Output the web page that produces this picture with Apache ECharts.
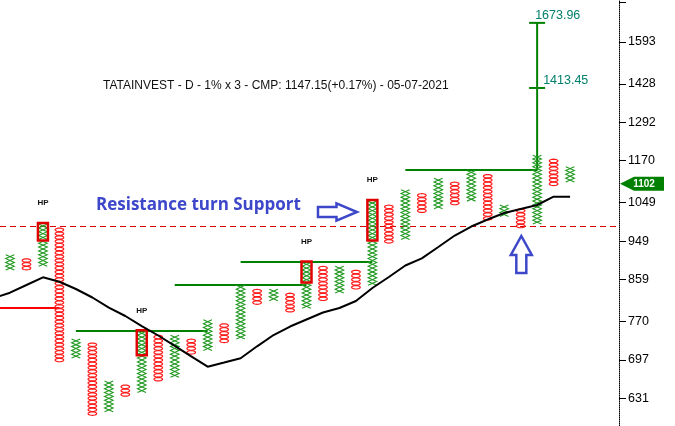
<!DOCTYPE html>
<html>
<head>
<meta charset="utf-8">
<script src="https://cdn.jsdelivr.net/npm/echarts@6/dist/echarts.min.js"></script>
<style>html,body{margin:0;padding:0;background:#fff}#c{width:675px;height:426px}</style>
</head>
<body>
<div id="c"></div>
<script>
// ---------- data ----------
const chartTitle = 'TATAINVEST - D - 1% x 3 - CMP: 1147.15(+0.17%) - 05-07-2021';
const noteText = 'Resistance turn Support';
const boxBase = 631;          // price of box 0
const boxPct = 0.01;          // 1% box
// P&F columns (index = column number)
const colType = ['X','O','X','O','X','O','X','O','X','O','X','O','X','O','X','O','X','O','X','O','X','O','X','O','X','O','X','O','X','O','X','O','X','O','X'];
const colLow  = [885.1, 885.1, 893.9, 697.0, 704.0, 606.4, 612.4, 637.3, 643.7, 663.2, 669.8, 711.0, 718.1, 732.6, 739.9, 809.2, 817.3, 793.3, 801.2, 817.3, 833.7, 842.1, 850.5, 948.9, 958.4, 1027.5, 1037.8, 1048.2, 1058.6, 1007.3, 1017.3, 987.4, 997.3, 1101.6, 1112.6];
const colHigh = [911.9, 902.9, 987.4, 977.7, 732.6, 725.3, 656.6, 650.1, 747.3, 739.9, 739.9, 732.6, 770.0, 762.3, 842.1, 833.7, 833.7, 825.5, 893.9, 885.1, 885.1, 876.3, 1048.2, 1037.8, 1079.9, 1069.2, 1112.6, 1101.6, 1135.0, 1123.8, 1037.8, 1027.5, 1181.1, 1169.4, 1146.4];
// high-pole boxes
const hpCols = [2, 8, 18, 22];
const hpLow  = [958.4, 711.0, 859.0, 958.4];
const hpHigh = [987.4, 747.3, 893.9, 1048.2];
// moving average, columns -1 .. 34
const maVals = [818.5, 830.3, 847.1, 864.2, 854.3, 838.3, 820.0, 798.9, 781.5, 761.4, 742.9, 723.2, 703.6, 685.0, 692.5, 700.2, 722.3, 743.8, 760.4, 774.4, 788.6, 797.9, 812.5, 840.4, 864.8, 891.1, 907.9, 935.0, 963.3, 986.1, 1004.2, 1021.3, 1032.0, 1042.8, 1065.5, 1065.5];
// resistance lines (green)
const resPrice = [751.0, 846.3, 898.4, 1140.7];
const resFrom  = [4, 10, 14, 24];
const resTo    = [12, 18, 22, 32];
// support line (red, solid)
const supPrice = 797.3, supFrom = -1, supTo = 3;
// dashed red line
const dashPrice = 987.4;
// vertical count target
const targetCol = 32, targetBase = 1140.7;
const targets = [1673.96, 1413.45];
// price tag
const lastPrice = 1102;
// arrows: column, price, direction
const arrowCol = [19.88, 31.04];
const arrowPrice = [1024, 916.9];
const arrowDir = ['right', 'up'];
// y axis ticks
const tickLabels = [631, 697, 770, 859, 949, 1049, 1170, 1292, 1428, 1593];
const extraTicks = [1765];
const axisTopPrice = 1776.5, axisBottomPrice = 587.2;

// ---------- helpers ----------
const LB = Math.log(boxBase), BX = Math.log(1 + boxPct);
const bv = b => LB + b * BX;
const boxOf = p => Math.round((Math.log(p) - LB) / BX);
const L = Math.log;

const X_COLOR = '#239a23', O_COLOR = '#ff1a1a', GREEN = '#008000', BLUE = '#3d47c9';
const X_MIN = -0.607, X_MAX = 36.97;

function boxH(api, i) {
  return api.coord([i, bv(0)])[1] - api.coord([i, bv(1)])[1];
}

function renderColumn(params, api) {
  const i = api.value(0), lo = api.value(1), hi = api.value(2), isX = api.value(3) === 1;
  const cx = api.coord([i, bv(lo)])[0];
  const h = boxH(api, i);
  const a = 4.3;
  const children = [];
  if (isX) {
    const bottom = api.coord([i, bv(lo)])[1] + h / 2;
    const n = hi - lo + 1;
    const p1 = [], p2 = [];
    for (let k = 0; k <= n; k++) {
      const y = bottom - k * h;
      p1.push([k % 2 ? cx + a : cx - a, y]);
      p2.push([k % 2 ? cx - a : cx + a, y]);
    }
    children.push({type: 'polyline', shape: {points: p1}, style: {stroke: X_COLOR, lineWidth: 1.1, fill: 'none'}});
    children.push({type: 'polyline', shape: {points: p2}, style: {stroke: X_COLOR, lineWidth: 1.1, fill: 'none'}});
  } else {
    for (let b = lo; b <= hi; b++) {
      const yc = api.coord([i, bv(b)])[1];
      const pts = [];
      for (let t = 0; t < 20; t++) {
        const th = t / 20 * Math.PI * 2;
        pts.push([cx + a * Math.cos(th), yc + (h / 2 - 0.2) * Math.sin(th)]);
      }
      children.push({type: 'polygon', shape: {points: pts}, style: {stroke: O_COLOR, lineWidth: 1.2, fill: 'none'}});
    }
  }
  return {type: 'group', children};
}

function renderHP(params, api) {
  const i = api.value(0), lo = api.value(1), hi = api.value(2);
  const h = boxH(api, i);
  const cx = api.coord([i, bv(lo)])[0];
  const top = api.coord([i, bv(hi)])[1] - h / 2 - 1;
  const bot = api.coord([i, bv(lo)])[1] + h / 2 + 1;
  return {type: 'group', children: [
    {type: 'rect', shape: {x: cx - 5, y: top, width: 10, height: bot - top},
     style: {stroke: '#e00000', lineWidth: 2.5, fill: 'none'}},
    {type: 'text', x: cx, y: top - 20,
     style: {text: 'HP', fill: '#111', fontSize: 8, fontWeight: 'bold', fontFamily: 'Liberation Sans', align: 'center', verticalAlign: 'middle'}}
  ]};
}

function renderHLine(color, width, dash) {
  return function (params, api) {
    const p1 = api.coord([api.value(0), api.value(2)]);
    const p2 = api.coord([api.value(1), api.value(2)]);
    const y = Math.round(p1[1]) + (width % 2 ? 0.5 : 0);
    return {type: 'line', shape: {x1: p1[0], y1: y, x2: p2[0], y2: y},
      style: {stroke: color, lineWidth: width, lineDash: dash || null}};
  };
}

const targetDx = [-2, 6];
function renderTarget(params, api) {
  const p = api.coord([api.value(0), api.value(1)]);
  const k = params.dataIndex;
  return {type: 'group', children: [
    {type: 'line', shape: {x1: p[0] - 8, y1: p[1], x2: p[0] + 8, y2: p[1]}, style: {stroke: GREEN, lineWidth: 2}},
    {type: 'text', x: p[0] + targetDx[k], y: p[1] - 7,
     style: {text: api.value(2).toFixed(2), fill: '#00806b', fontSize: 12.5, fontFamily: 'Liberation Sans', align: 'left', verticalAlign: 'middle'}}
  ]};
}

function renderTag(params, api) {
  const p = api.coord([api.value(0), api.value(1)]);
  const x = p[0], y = p[1];
  return {type: 'group', children: [
    {type: 'polygon', shape: {points: [[x + 1, y], [x + 15, y - 7], [x + 45, y - 7], [x + 45, y + 7], [x + 15, y + 7]]},
     style: {fill: GREEN}},
    {type: 'text', x: x + 25, y: y, style: {text: String(lastPrice), fill: '#fff', fontSize: 10, fontWeight: 'bold', fontFamily: 'Liberation Sans', align: 'center', verticalAlign: 'middle'}}
  ]};
}

function renderArrow(params, api) {
  const p = api.coord([api.value(0), api.value(1)]);
  const dir = arrowDir[params.dataIndex];
  let rel, w, h;
  if (dir === 'right') {
    w = 39; h = 17.4;
    rel = [[0, 3.7], [18.5, 3.7], [18.5, 0], [39, 8.7], [18.5, 17.4], [18.5, 13.7], [0, 13.7]];
  } else {
    w = 21; h = 37;
    rel = [[10.5, 0], [21, 19], [15.5, 19], [15.5, 37], [5.5, 37], [5.5, 19], [0, 19]];
  }
  const pts = rel.map(q => [p[0] - w / 2 + q[0], p[1] - h / 2 + q[1]]);
  return {type: 'polygon', shape: {points: pts}, style: {stroke: BLUE, lineWidth: 2.5, fill: '#fff'}};
}

const chart = echarts.init(document.getElementById('c'), null, {renderer: 'canvas'});
chart.setOption({
  animation: false,
  backgroundColor: '#fff',
  title: [
    {text: chartTitle, left: 103, top: 80, padding: 0,
     textStyle: {fontSize: 12, fontWeight: 'normal', color: '#111', fontFamily: 'Liberation Sans'}},
    {text: noteText, left: 96, top: 197, padding: 0,
     textStyle: {fontSize: 17, fontWeight: 'bold', color: BLUE, fontFamily: 'Open Sans'}}
  ],
  grid: {left: 0, right: 56, top: 0, bottom: 0, containLabel: false},
  xAxis: {type: 'value', min: X_MIN, max: X_MAX, show: false},
  yAxis: {
    type: 'value', position: 'right', min: L(axisBottomPrice), max: L(axisTopPrice),
    axisLine: {show: true, onZero: false, lineStyle: {color: '#000', type: 'dotted', width: 1}},
    axisTick: {show: true, length: 7, inside: false,
      customValues: tickLabels.concat(extraTicks).map(L), lineStyle: {color: '#000', width: 1}},
    axisLabel: {customValues: tickLabels.map(L), margin: 9, fontSize: 12.5, color: '#000',
      fontFamily: 'Liberation Sans', formatter: v => String(Math.round(Math.exp(v)))},
    splitLine: {show: false}
  },
  series: [
    {type: 'custom', name: 'dash', clip: true, z: 1, renderItem: renderHLine('#d80000', 1, [6, 4]),
     data: [[X_MIN, X_MAX, L(dashPrice)]]},
    {type: 'custom', name: 'support', clip: true, z: 2, renderItem: renderHLine('#ff0000', 2),
     data: [[supFrom, supTo, L(supPrice)]]},
    {type: 'custom', name: 'resistance', clip: true, z: 2, renderItem: renderHLine(GREEN, 2),
     data: resPrice.map((p, k) => [resFrom[k], resTo[k], L(p)])},
    {type: 'line', name: 'target', z: 2, symbol: 'none', lineStyle: {color: GREEN, width: 2},
     data: [[targetCol, L(targetBase)], [targetCol, L(targets[0])]]},
    {type: 'custom', name: 'targets', z: 3, renderItem: renderTarget,
     data: targets.map(t => [targetCol, L(t), t])},
    {type: 'custom', name: 'columns', z: 4, renderItem: renderColumn,
     data: colType.map((t, i) => [i, boxOf(colLow[i]), boxOf(colHigh[i]), t === 'X' ? 1 : 0])},
    {type: 'custom', name: 'hp', z: 5, renderItem: renderHP,
     data: hpCols.map((c, k) => [c, boxOf(hpLow[k]), boxOf(hpHigh[k])])},
    {type: 'line', name: 'ma', z: 6, symbol: 'none', clip: true, lineStyle: {color: '#000', width: 2},
     data: maVals.map((v, k) => [k - 1, L(v)])},
    {type: 'custom', name: 'arrows', z: 7, renderItem: renderArrow,
     data: arrowCol.map((c, k) => [c, L(arrowPrice[k])])},
    {type: 'custom', name: 'tag', z: 8, clip: false, renderItem: renderTag,
     data: [[X_MAX, L(lastPrice)]]}
  ]
});
</script>
</body>
</html>
